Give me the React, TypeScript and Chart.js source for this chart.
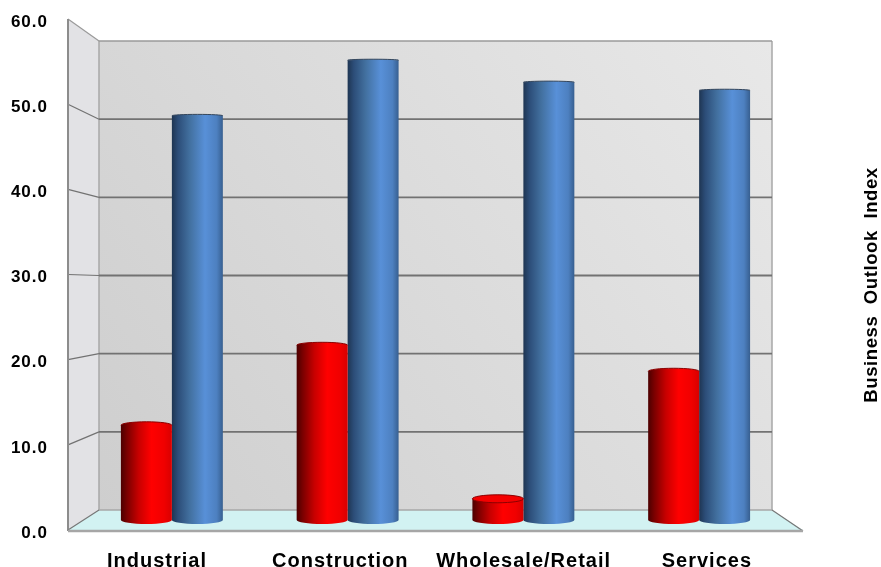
import { useEffect, useRef } from "react";
import { Chart, registerables } from "chart.js";

Chart.register(...registerables);

const categories = ["Industrial", "Construction", "Wholesale/Retail", "Services"];
const firstSeries = [11.6, 21.4, 2.6, 18.2];
const secondSeries = [49.5, 56.3, 53.6, 52.6];
const sideTitle = "Business  Outlook  Index";

const FONT = "'Liberation Sans', Arial, sans-serif";
const BAND_FILL = 0.58;

// Room geometry: the value scale sits on the front corner, the back wall is inset and shortened.
const FRONT_LEFT = 68;
const FRONT_RIGHT = 803;
const BACK_LEFT = 99;
const BACK_RIGHT = 772;
const BACK_FLOOR = 510;
const FRONT_FLOOR = 530;
const BACK_SCALE = 469 / 511;
const LABEL_LIFT = 3;

const redStops: [number, string][] = [
  [0, "#4c0000"],
  [0.12, "#7a0000"],
  [0.35, "#c80000"],
  [0.6, "#ff0000"],
  [0.85, "#f00000"],
  [1, "#d80000"],
];
const blueStops: [number, string][] = [
  [0, "#1e3552"],
  [0.12, "#2c4d78"],
  [0.35, "#42709f"],
  [0.65, "#5890d8"],
  [0.88, "#4d80c0"],
  [1, "#375f90"],
];

function cylinderFill(stops: [number, string][], side: 0 | 1, fallback: string) {
  return (c: any) => {
    const chart = c.chart;
    const x = chart.scales.x;
    if (!chart.chartArea || c.dataIndex === undefined || !x) return fallback;
    const center = x.getPixelForValue(c.dataIndex);
    const width = ((x.right - x.left) / categories.length) * BAND_FILL * 0.5;
    const left = center - width + side * width;
    const g = chart.ctx.createLinearGradient(left, 0, left + width, 0);
    stops.forEach(([at, color]) => g.addColorStop(at, color));
    return g;
  };
}

const roomPlugin = {
  id: "room",
  beforeDraw(chart: any) {
    chart.ctx.letterSpacing = "1px";
  },
  beforeDatasetsDraw(chart: any) {
    const { ctx } = chart;
    const scale = chart.scales.y;
    const frontY = (v: number) => scale.getPixelForValue(v) - LABEL_LIFT;
    const backY = (v: number) => BACK_FLOOR - (FRONT_FLOOR - frontY(v)) * BACK_SCALE;
    const top = scale.max;

    ctx.save();
    const wall = ctx.createLinearGradient(BACK_LEFT, BACK_FLOOR, BACK_RIGHT, backY(top));
    wall.addColorStop(0, "#cecece");
    wall.addColorStop(1, "#e8e8e8");
    ctx.fillStyle = wall;
    ctx.fillRect(BACK_LEFT, backY(top), BACK_RIGHT - BACK_LEFT, BACK_FLOOR - backY(top));

    ctx.fillStyle = "#e2e2e5";
    ctx.beginPath();
    ctx.moveTo(FRONT_LEFT, frontY(top));
    ctx.lineTo(BACK_LEFT, backY(top));
    ctx.lineTo(BACK_LEFT, BACK_FLOOR);
    ctx.lineTo(FRONT_LEFT, FRONT_FLOOR);
    ctx.closePath();
    ctx.fill();

    ctx.fillStyle = "#d2f2f2";
    ctx.beginPath();
    ctx.moveTo(BACK_LEFT, BACK_FLOOR);
    ctx.lineTo(BACK_RIGHT, BACK_FLOOR);
    ctx.lineTo(FRONT_RIGHT, FRONT_FLOOR);
    ctx.lineTo(FRONT_LEFT, FRONT_FLOOR);
    ctx.closePath();
    ctx.fill();

    ctx.strokeStyle = "#a8a8a8";
    ctx.lineWidth = 1.5;
    ctx.beginPath();
    ctx.moveTo(BACK_LEFT, backY(top));
    ctx.lineTo(BACK_LEFT, BACK_FLOOR);
    ctx.lineTo(BACK_RIGHT, BACK_FLOOR);
    ctx.moveTo(BACK_RIGHT, backY(top));
    ctx.lineTo(BACK_RIGHT, BACK_FLOOR);
    ctx.stroke();

    // Value lines fold from the side wall onto the back wall.
    scale.ticks.forEach((t: any) => {
      if (t.value === 0) return;
      const isTop = t.value === top;
      ctx.strokeStyle = isTop ? "#9a9a9a" : "#727272";
      ctx.lineWidth = 1.2;
      ctx.beginPath();
      ctx.moveTo(FRONT_LEFT, frontY(t.value));
      ctx.lineTo(BACK_LEFT, backY(t.value));
      ctx.stroke();
      ctx.lineWidth = isTop ? 1.5 : 1.8;
      ctx.beginPath();
      ctx.moveTo(BACK_LEFT, backY(t.value));
      ctx.lineTo(BACK_RIGHT, backY(t.value));
      ctx.stroke();
    });

    ctx.strokeStyle = "#8c8c8c";
    ctx.lineWidth = 2;
    ctx.beginPath();
    ctx.moveTo(FRONT_LEFT, frontY(top));
    ctx.lineTo(FRONT_LEFT, FRONT_FLOOR + 1);
    ctx.stroke();

    ctx.lineWidth = 1.2;
    ctx.strokeStyle = "#777777";
    ctx.beginPath();
    ctx.moveTo(FRONT_LEFT, FRONT_FLOOR);
    ctx.lineTo(BACK_LEFT, BACK_FLOOR);
    ctx.moveTo(BACK_RIGHT, BACK_FLOOR);
    ctx.lineTo(FRONT_RIGHT, FRONT_FLOOR + 1);
    ctx.stroke();

    ctx.strokeStyle = "#a6a6a6";
    ctx.lineWidth = 2.5;
    ctx.beginPath();
    ctx.moveTo(FRONT_LEFT, FRONT_FLOOR + 1);
    ctx.lineTo(FRONT_RIGHT, FRONT_FLOOR + 1);
    ctx.stroke();
    ctx.restore();
  },
  afterDatasetDraw(chart: any, args: any) {
    const { ctx } = chart;
    const isRed = args.index === 0;
    ctx.save();
    args.meta.data.forEach((bar: any) => {
      const half = bar.width / 2;
      const fill = bar.options.backgroundColor;
      ctx.fillStyle = fill;
      ctx.beginPath();
      ctx.ellipse(bar.x, bar.base, half, 4, 0, 0, Math.PI);
      ctx.fill();

      // Caps open up as the bar top drops further below eye level.
      const ry = 1 + ((bar.y - 60) / 440) * 3;
      const open = bar.y > 480;
      ctx.beginPath();
      ctx.ellipse(bar.x, bar.y, half, ry, 0, 0, Math.PI * 2);
      ctx.fillStyle = open ? "#f40000" : fill;
      ctx.fill();
      ctx.lineWidth = 1;
      ctx.strokeStyle = isRed ? "#8c0000" : "#34465c";
      ctx.beginPath();
      if (open) ctx.ellipse(bar.x, bar.y, half, ry, 0, 0, Math.PI * 2);
      else ctx.ellipse(bar.x, bar.y, half, ry, 0, Math.PI, Math.PI * 2);
      ctx.stroke();
    });
    ctx.restore();
  },
  afterDatasetsDraw(chart: any) {
    chart.ctx.letterSpacing = "1.2px";
  },
  afterDraw(chart: any) {
    const { ctx } = chart;
    ctx.save();
    ctx.letterSpacing = "0.6px";
    ctx.translate(872, 285);
    ctx.rotate(-Math.PI / 2);
    ctx.font = `bold 18.5px ${FONT}`;
    ctx.fillStyle = "#000000";
    ctx.textAlign = "center";
    ctx.textBaseline = "middle";
    ctx.fillText(sideTitle, 0, 0);
    ctx.restore();
    ctx.letterSpacing = "0px";
  },
};

export default function App() {
  const canvasRef = useRef<HTMLCanvasElement>(null);

  useEffect(() => {
    const canvas = canvasRef.current;
    if (!canvas) return;
    const chart = new Chart(canvas, {
      type: "bar",
      data: {
        labels: categories,
        datasets: [
          {
            label: "Series 1",
            data: firstSeries,
            xAxisID: "x",
            yAxisID: "yBars",
            backgroundColor: cylinderFill(redStops, 0, "#ee0000"),
          },
          {
            label: "Series 2",
            data: secondSeries,
            xAxisID: "x",
            yAxisID: "yBars",
            backgroundColor: cylinderFill(blueStops, 1, "#4a7ab5"),
          },
        ],
      },
      options: {
        responsive: false,
        animation: false,
        layout: { padding: { top: 22, right: 94, bottom: 0, left: 0 } },
        datasets: { bar: { categoryPercentage: BAND_FILL, barPercentage: 1 } },
        plugins: { legend: { display: false }, title: { display: false }, tooltip: { enabled: false } },
        scales: {
          x: { type: "category", display: false },
          // Category captions are spread along the front edge of the floor.
          xFront: {
            type: "linear",
            position: "bottom",
            bounds: "data",
            offset: false,
            z: 1,
            min: (84 - 157) / 183.3,
            max: (787 - 157) / 183.3,
            grid: { display: false, drawTicks: false, offset: false },
            border: { display: false },
            afterBuildTicks: (s: any) => {
              s.ticks = categories.map((_, value) => ({ value }));
            },
            ticks: {
              autoSkip: false,
              maxRotation: 0,
              padding: 16,
              color: "#000000",
              font: { family: FONT, size: 20, weight: "bold" },
              callback: (v: any) => categories[Number(v)] ?? "",
            },
            afterFit: (s: any) => {
              s.height = 34;
              s.paddingLeft = 0;
              s.paddingRight = 0;
            },
          },
          y: {
            type: "linear",
            position: "left",
            bounds: "data",
            min: 0,
            max: 60,
            grid: { display: false, drawTicks: false },
            border: { display: false },
            ticks: {
              stepSize: 10,
              padding: 36,
              color: "#000000",
              font: { family: FONT, size: 17, weight: "bold" },
              callback: (v: any) => Number(v).toFixed(1),
            },
            afterFit: (s: any) => {
              s.width = 84;
              s.paddingTop = 0;
              s.paddingBottom = 0;
            },
          },
          // Bars stand mid-way into the room, so their scale is slightly shorter.
          yBars: {
            type: "linear",
            display: false,
            bounds: "data",
            min: -1.59,
            max: 60.98,
          },
        },
      } as any,
      plugins: [roomPlugin],
    });
    return () => chart.destroy();
  }, []);

  return (
    <div style={{ position: "absolute", left: 0, top: 0, width: 881, height: 567, background: "#ffffff" }}>
      <canvas ref={canvasRef} width={881} height={567} style={{ display: "block" }} />
    </div>
  );
}
